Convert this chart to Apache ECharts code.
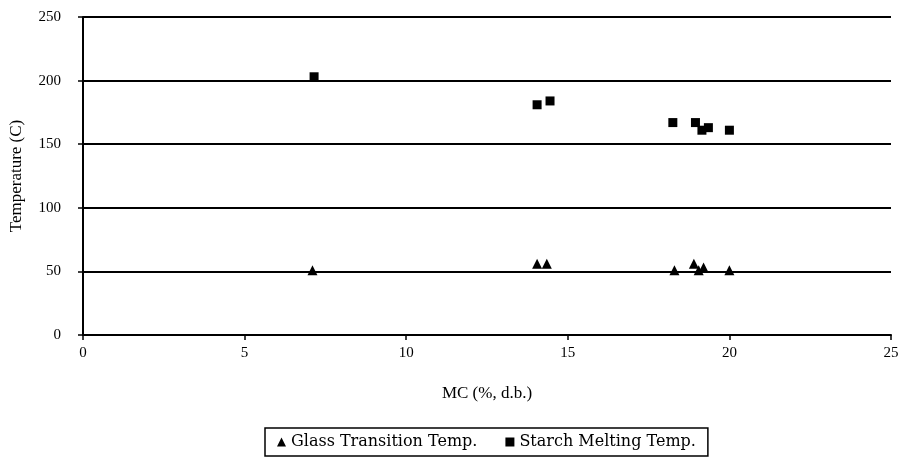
<!DOCTYPE html>
<html>
<head>
<meta charset="UTF-8">
<title>Glass transition and starch melting temperature vs MC</title>
<script src="https://cdn.jsdelivr.net/npm/echarts@6/dist/echarts.min.js"></script>
<style>
    body { margin: 0; background: #fff; }
    #chart1 { width: 904px; height: 461px; }
</style>
</head>
<body>
<div id="chart1"></div>
<script type="text/javascript">
// data
var glassMC = [7.1, 14.05, 14.35, 18.3, 18.9, 19.05, 19.2, 20.0];
var glassTemp = [51, 56, 56, 51, 56, 51, 53, 51];
var meltMC = [7.15, 14.05, 14.45, 18.25, 18.95, 19.15, 19.35, 20.0];
var meltTemp = [203, 181, 184, 167, 167, 161, 163, 161];

var pairs = function (xs, ys) {
    return xs.map(function (x, i) { return [x, ys[i]]; });
};

var chart1 = echarts.init(document.getElementById('chart1'));
var font = 'Liberation Serif';

option = {
    backgroundColor: '#ffffff',
    animation: false,
    grid: { left: 83, right: 13, top: 17, bottom: 126, outerBoundsMode: 'none' },
    xAxis: {
        type: 'value',
        min: 0, max: 25, interval: 5,
        name: 'MC (%, d.b.)',
        nameLocation: 'middle',
        nameGap: 50,
        nameTextStyle: { fontFamily: font, fontSize: 17, color: '#000' },
        axisLine: { lineStyle: { color: '#000', width: 2 } },
        axisTick: { show: true, length: 5, lineStyle: { color: '#000', width: 1.5 } },
        axisLabel: { fontFamily: font, fontSize: 15, color: '#000', margin: 11 },
        splitLine: { show: false }
    },
    yAxis: {
        type: 'value',
        min: 0, max: 250, interval: 50,
        name: 'Temperature (C)',
        nameLocation: 'middle',
        nameGap: 58,
        nameTextStyle: { fontFamily: font, fontSize: 17, color: '#000' },
        axisLine: { show: true, lineStyle: { color: '#000', width: 2 } },
        axisTick: { show: true, length: 5, lineStyle: { color: '#000', width: 1.5 } },
        axisLabel: { fontFamily: font, fontSize: 15, color: '#000', margin: 22 },
        splitLine: { show: true, lineStyle: { color: '#000', width: 2 } }
    },
    legend: {
        bottom: 5,
        left: 265,
        padding: [6, 12],
        borderColor: '#000',
        borderWidth: 1.5,
        itemWidth: 9,
        itemHeight: 9,
        itemGap: 28,
        textStyle: { fontFamily: 'DejaVu Serif', fontSize: 16, color: '#000' },
        data: [
            { name: 'Glass Transition Temp.', icon: 'triangle' },
            { name: 'Starch Melting Temp.', icon: 'rect' }
        ]
    },
    series: [
        {
            name: 'Glass Transition Temp.',
            type: 'scatter',
            symbol: 'triangle',
            symbolSize: 10,
            itemStyle: { color: '#000', opacity: 1 },
            data: pairs(glassMC, glassTemp)
        },
        {
            name: 'Starch Melting Temp.',
            type: 'scatter',
            symbol: 'rect',
            symbolSize: 9,
            itemStyle: { color: '#000', opacity: 1 },
            data: pairs(meltMC, meltTemp)
        }
    ]
};
chart1.setOption(option);
</script>
</body>
</html>
